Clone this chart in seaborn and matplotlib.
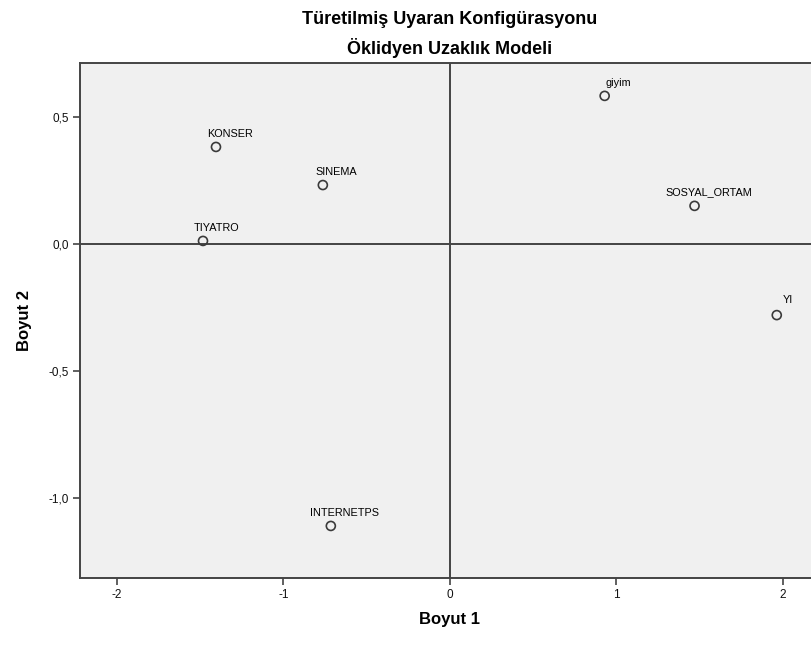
import matplotlib
matplotlib.use("Agg")
import matplotlib.pyplot as plt
import pandas as pd
import seaborn as sns
from matplotlib.ticker import FuncFormatter

# Stimulus coordinates
labels = ["giyim", "KONSER", "SINEMA", "SOSYAL_ORTAM", "TIYATRO", "YI", "INTERNETPS"]
dim1 = [0.93, -1.405, -0.763, 1.47, -1.483, 1.964, -0.715]
dim2 = [0.583, 0.382, 0.232, 0.150, 0.012, -0.280, -1.110]
x_ticks = [-2, -1, 0, 1, 2]
y_ticks = [-1.0, -0.5, 0.0, 0.5]

df = pd.DataFrame({"label": labels, "Boyut 1": dim1, "Boyut 2": dim2})

sns.set_style("white")
plt.rcParams["font.family"] = ["Liberation Sans", "DejaVu Sans"]
plt.rcParams["axes.unicode_minus"] = False
plt.rcParams["text.color"] = "black"
plt.rcParams["axes.labelcolor"] = "black"

fig = plt.figure(figsize=(8.12, 6.48), dpi=100)
ax = fig.add_axes([0.0985, 0.108, 0.911, 0.795])
ax.set_facecolor("#f0f0f0")

ax.axhline(0, color="#444444", lw=1.4, zorder=1)
ax.axvline(0, color="#444444", lw=1.4, zorder=1)

sns.scatterplot(data=df, x="Boyut 1", y="Boyut 2", ax=ax, s=42,
                facecolor="none", edgecolor="#3a3a3a", linewidth=1.2, zorder=3)

for _, r in df.iterrows():
    if r["label"] == "YI":
        ax.annotate(r["label"], (r["Boyut 1"], r["Boyut 2"]), xytext=(4, 7),
                    textcoords="offset points", ha="left", va="bottom", fontsize=7.8)
    else:
        ax.annotate(r["label"], (r["Boyut 1"], r["Boyut 2"]), xytext=(10, 6),
                    textcoords="offset points", ha="center", va="bottom", fontsize=7.8)

ax.set_xlim(-2.222, 2.222)
ax.set_ylim(-1.315, 0.713)
ax.set_xticks(x_ticks)
ax.set_yticks(y_ticks)
ax.xaxis.set_major_formatter(FuncFormatter(lambda v, p: f"{v:.0f}"))
ax.yaxis.set_major_formatter(FuncFormatter(lambda v, p: f"{v:.1f}".replace(".", ",")))
ax.tick_params(axis="both", bottom=True, left=True, direction="out", length=5,
               width=1.2, color="#444444", labelsize=8.5, labelcolor="#111111", pad=3)
for s in ax.spines.values():
    s.set_color("#444444")
    s.set_linewidth(1.4)

ax.set_xlabel("Boyut 1", fontsize=12, fontweight="bold")
ax.set_ylabel("Boyut 2", fontsize=12, fontweight="bold", labelpad=12)
ax.xaxis.set_label_coords((450 - 80) / 740, -0.065)

fig.text(450 / 812, 1 - 20 / 648, "Türetilmiş Uyaran Konfigürasyonu", ha="center",
         va="center", fontsize=13, fontweight="bold")
fig.text(450 / 812, 1 - 48 / 648, "Öklidyen Uzaklık Modeli", ha="center",
         va="center", fontsize=13, fontweight="bold")

fig.savefig("out.png", dpi=100)
